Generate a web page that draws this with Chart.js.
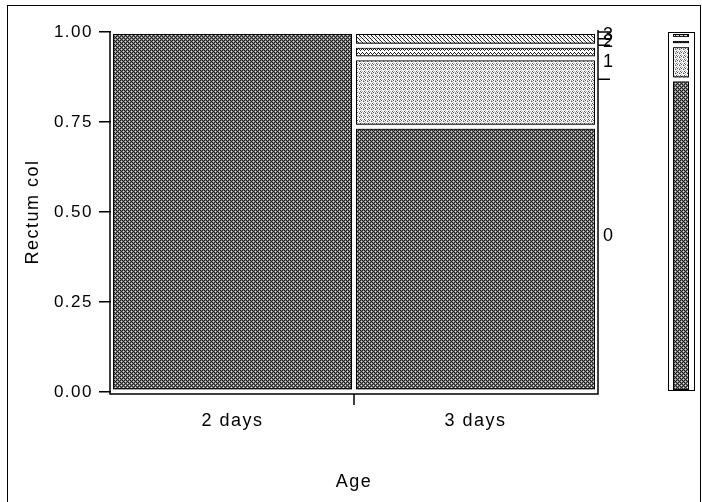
<!DOCTYPE html>
<html>
<head>
<meta charset="utf-8">
<script src="https://cdn.jsdelivr.net/npm/chart.js@4.4.0/dist/chart.umd.min.js"></script>
<style>
  html, body { margin: 0; padding: 0; background: #fff; }
  #wrap { width: 702px; height: 502px; }
</style>
</head>
<body>
<div id="wrap"><canvas id="mosaic" width="702" height="502"></canvas></div>
<script>
// Mosaic of Rectum col by Age
const ages = ["2 days", "3 days"];
const levels = ["0", "1", "2", "3"];
// share of each level inside each age group
const level0 = [1.0, 0.737];
const level1 = [0.0, 0.19];
const level2 = [0.0, 0.035];
const level3 = [0.0, 0.038];
const yTicks = [0, 0.25, 0.5, 0.75, 1];

const series = [level0, level1, level2, level3];
const FONT = "'Liberation Sans', Arial, sans-serif";

// overall share of each level (both age groups weigh the same)
const marginal = series.map((vals) => vals.reduce((a, b) => a + b, 0) / ages.length);
const cumTop = [];
let run = 0;
marginal.forEach((m) => { run += m; cumTop.push(run); });
const rightMid = marginal.map((m, i) => cumTop[i] - m / 2);

// small pixel tiles for the fill textures
function tile(rows, colors) {
  const c = document.createElement("canvas");
  c.width = rows[0].length;
  c.height = rows.length;
  const g = c.getContext("2d");
  rows.forEach((row, y) => {
    [...row].forEach((ch, x) => {
      g.fillStyle = colors[ch];
      g.fillRect(x, y, 1, 1);
    });
  });
  return g.createPattern(c, "repeat");
}
const cols = { k: "#222", g: "#7a7a7a", w: "#ddd", W: "#fff", l: "#bbb", d: "#555" };
const fills = [
  tile(["kgkg", "gwgk", "kgkg", "gkgw"], cols),
  tile(["WdWl", "lWWd", "WlWW", "dWlW"], cols),
  tile(["WWkW", "WkWk", "kWWW", "WWWW"], cols),
  tile(["kWWl", "WkWW", "lWkW", "WWWk"], cols),
];

function outline(ctx, l, t, r, b) {
  if (b - t < 1) return;
  ctx.strokeStyle = "#fff";
  ctx.lineWidth = 4;
  ctx.strokeRect(l, t, r - l, b - t);
  ctx.strokeStyle = "#000";
  ctx.lineWidth = 1;
  ctx.strokeRect(l + 2.5, t + 2.5, r - l - 5, Math.max(b - t - 5, 0));
}

const mosaicLines = {
  id: "mosaicLines",
  beforeDraw(chart) {
    chart.ctx.letterSpacing = "1.5px";
  },
  afterDatasetsDraw(chart) {
    const { ctx, chartArea: a } = chart;
    const xs = chart.scales.x;
    const ys = chart.scales.y;
    ctx.save();
    ctx.beginPath();
    ctx.rect(a.left, a.top, a.right - a.left, a.bottom - a.top);
    ctx.clip();
    chart.data.datasets.forEach((ds, i) => {
      chart.getDatasetMeta(i).data.forEach((bar) => {
        const p = bar.getProps(["x", "y", "base", "width"], true);
        outline(ctx, p.x - p.width / 2, Math.min(p.y, p.base), p.x + p.width / 2, Math.max(p.y, p.base));
      });
    });
    ctx.restore();

    ctx.save();
    ctx.strokeStyle = "#000";
    ctx.lineWidth = 1.5;
    const fl = a.left - 1, fr = a.right + 1, fb = a.bottom + 2;
    ctx.beginPath();
    ctx.moveTo(fl, a.top); ctx.lineTo(fl, fb); ctx.lineTo(fr, fb); ctx.lineTo(fr, a.top - 2);
    // tick between the two age columns
    const mid = xs.getPixelForValue(0.5);
    ctx.moveTo(mid, fb); ctx.lineTo(mid, fb + 11);
    // right axis ticks at level boundaries
    cumTop.forEach((c) => {
      const yy = ys.getPixelForValue(c);
      ctx.moveTo(fr, yy); ctx.lineTo(fr + 12, yy);
    });
    ctx.stroke();

    // level strip on the right
    const sl = 668, sr = 694;
    ctx.lineWidth = 1;
    let lo = 0;
    marginal.forEach((m, i) => {
      const yb = ys.getPixelForValue(lo);
      const yt = ys.getPixelForValue(lo + m);
      lo += m;
      ctx.fillStyle = fills[i];
      ctx.fillRect(sl + 4, yt, sr - sl - 8, yb - yt);
      outline(ctx, sl + 3, yt, sr - 3, yb);
    });
    ctx.lineWidth = 1;
    ctx.strokeStyle = "#000";
    ctx.strokeRect(sl + 0.5, a.top + 0.5, sr - sl, a.bottom - a.top - 2);

    // page border
    ctx.strokeRect(7.5, 5.5, 693, 600);
    ctx.restore();
  },
};

new Chart(document.getElementById("mosaic").getContext("2d"), {
  type: "bar",
  data: {
    labels: ages,
    datasets: series.map((vals, i) => ({
      label: levels[i],
      data: vals,
      backgroundColor: fills[i],
      borderWidth: 0,
      barPercentage: 1,
      categoryPercentage: 1,
    })),
  },
  options: {
    responsive: false,
    animation: false,
    devicePixelRatio: 1,
    layout: { padding: { top: 32, right: 75, left: 0, bottom: 0 } },
    plugins: { legend: { display: false }, tooltip: { enabled: false } },
    scales: {
      x: {
        stacked: true,
        grid: { display: false, drawTicks: false },
        border: { display: false },
        ticks: { color: "#000", font: { family: FONT, size: 18 }, padding: 18 },
        title: { display: true, text: "Age", color: "#000", font: { family: FONT, size: 18 }, padding: { bottom: 9 } },
        afterFit: (s) => { s.height = 110; },
      },
      y: {
        stacked: true,
        min: 0,
        max: 1,
        afterBuildTicks: (s) => { s.ticks = yTicks.map((v) => ({ value: v })); },
        ticks: { color: "#000", font: { family: FONT, size: 17 }, padding: 6, callback: (v) => v.toFixed(2) },
        grid: { drawOnChartArea: false, tickLength: 12, color: "#000", lineWidth: 1.5 },
        border: { display: false },
        title: { display: true, text: "Rectum col", color: "#000", font: { family: FONT, size: 18 }, padding: { top: 22 } },
        afterFit: (s) => { s.width = 111; },
      },
      y2: {
        position: "right",
        min: 0,
        max: 1,
        afterBuildTicks: (s) => { s.ticks = rightMid.map((v) => ({ value: v })); },
        ticks: { color: "#000", font: { family: FONT, size: 18 }, padding: 6, autoSkip: false, callback: (v, i) => levels[i] },
        grid: { display: false, drawTicks: false },
        border: { display: false },
        afterFit: (s) => { s.width = 30; },
      },
    },
  },
  plugins: [mosaicLines],
});
</script>
</body>
</html>
